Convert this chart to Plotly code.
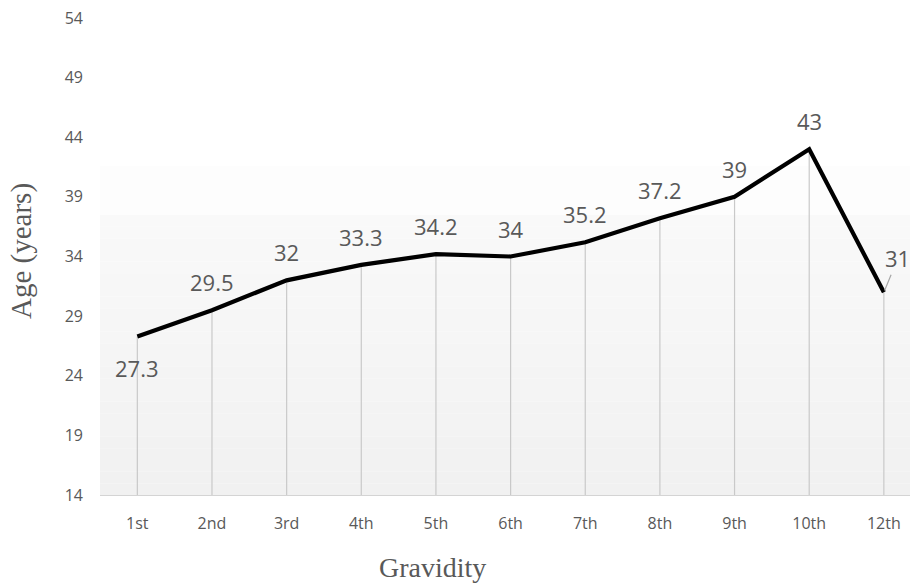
import plotly.graph_objects as go

# Mean maternal age by gravidity
gravidity = ["1st", "2nd", "3rd", "4th", "5th", "6th", "7th", "8th", "9th", "10th", "12th"]
mean_age = [27.3, 29.5, 32, 33.3, 34.2, 34, 35.2, 37.2, 39, 43, 31]
y_ticks = [14, 19, 24, 29, 34, 39, 44, 49, 54]

Y_MIN, Y_MAX = 14, 54
LABEL_COLOR = "#595959"
LABEL_FONT = dict(family="Open Sans", size=22, color=LABEL_COLOR)
below_labels = {"1st"}
leader_labels = {"12th"}

fig = go.Figure()

# vertical drop lines from each point down to the category axis
fig.add_trace(go.Scatter(
    x=gravidity, y=mean_age, mode="markers",
    marker=dict(size=0.1, color="rgba(0,0,0,0)"),
    error_y=dict(type="data", symmetric=False,
                 array=[0] * len(mean_age),
                 arrayminus=[v - Y_MIN for v in mean_age],
                 color="#c9c9c9", thickness=1.2, width=0),
    hoverinfo="skip", showlegend=False,
))

fig.add_trace(go.Scatter(
    x=gravidity, y=mean_age, mode="lines",
    line=dict(color="#000000", width=4.2),
    showlegend=False,
))

annotations = []
for g, v in zip(gravidity, mean_age):
    if g in leader_labels:
        annotations.append(dict(
            x=g, y=v, xref="x", yref="y", text=f"{v:g}", font=LABEL_FONT,
            showarrow=True, arrowhead=0, arrowwidth=1.2, arrowcolor="#a6a6a6",
            ax=14, ay=-34, standoff=2,
        ))
    else:
        annotations.append(dict(
            x=g, y=v, xref="x", yref="y", text=f"{v:g}", font=LABEL_FONT,
            showarrow=False, yshift=-32 if g in below_labels else 28,
        ))

# axis titles, placed in paper coordinates
annotations.append(dict(
    text="Age (years)", x=-0.096, y=0.512, xref="paper", yref="paper",
    xanchor="center", yanchor="middle",
    showarrow=False, textangle=-90,
    font=dict(family="Liberation Serif", size=29, color=LABEL_COLOR),
))
annotations.append(dict(
    text="Gravidity", x=0.411, y=-0.151, xref="paper", yref="paper",
    xanchor="center", yanchor="middle",
    showarrow=False,
    font=dict(family="Liberation Serif", size=28, color=LABEL_COLOR),
))

# soft vertical shading of the plotting area
shapes = []
n_bands = 24
top_of_shade = 0.587
for i in range(n_bands):
    y0 = top_of_shade * i / n_bands
    y1 = top_of_shade * (i + 1) / n_bands
    t = i / (n_bands - 1)
    c = round(241 + (249 - 241) * t)
    shapes.append(dict(type="rect", xref="x domain", yref="y domain",
                       x0=0, x1=1, y0=y0, y1=y1, layer="below",
                       line=dict(width=0), fillcolor=f"rgb({c},{c},{c})"))
shapes.append(dict(type="rect", xref="x domain", yref="y domain",
                   x0=0, x1=1, y0=top_of_shade, y1=0.69, layer="below",
                   line=dict(width=0), fillcolor="rgb(253,253,253)"))

fig.update_layout(
    width=910, height=585,
    margin=dict(l=100, r=0, t=18, b=90),
    paper_bgcolor="#ffffff", plot_bgcolor="#ffffff",
    annotations=annotations, shapes=shapes,
    xaxis=dict(
        type="category", range=[-0.5, 10.35],
        showgrid=False, zeroline=False,
        showline=True, linecolor="#d4d4d4", linewidth=1.2,
        ticks="", ticklabelstandoff=14,
        tickfont=dict(family="Open Sans", size=16, color=LABEL_COLOR),
    ),
    yaxis=dict(
        range=[Y_MIN, Y_MAX], tickvals=y_ticks,
        showgrid=False, zeroline=False, showline=False,
        ticks="", ticklabelstandoff=16,
        tickfont=dict(family="Open Sans", size=16, color=LABEL_COLOR),
    ),
)

fig.write_html("out.html")
